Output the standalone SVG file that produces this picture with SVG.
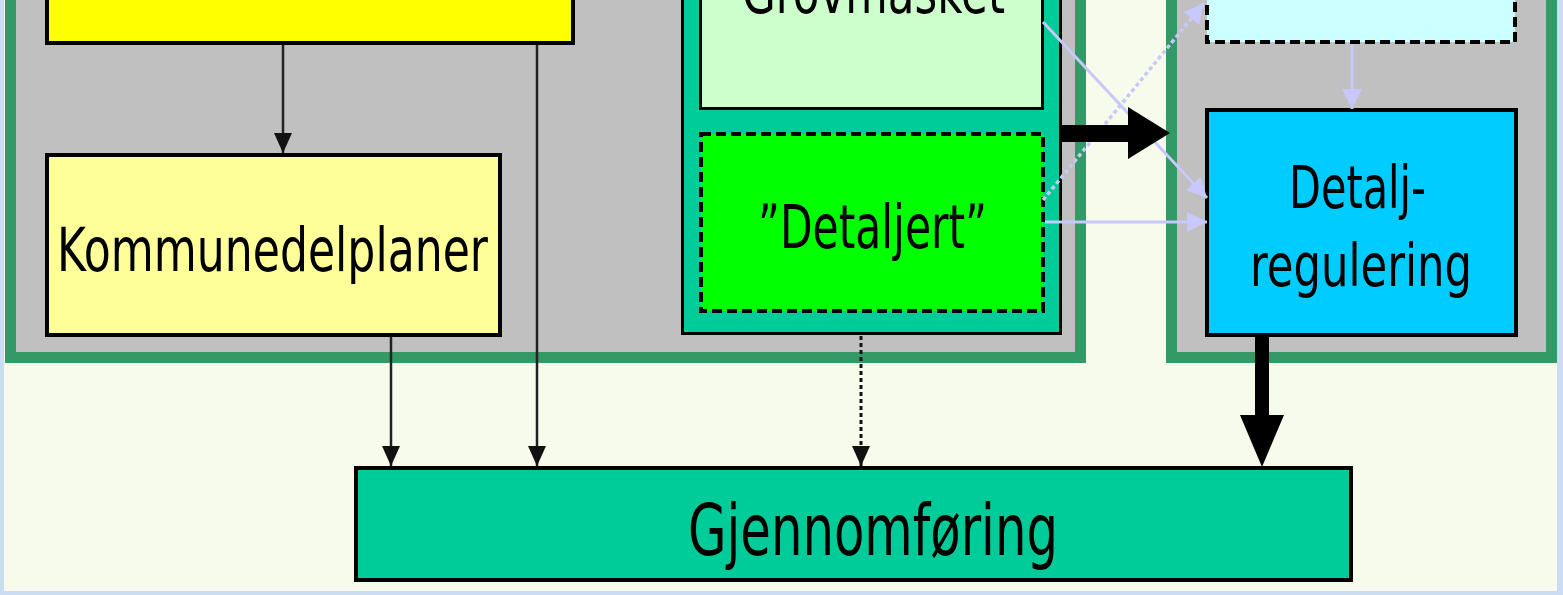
<svg xmlns="http://www.w3.org/2000/svg" width="1563" height="595" viewBox="0 0 1563 595">
  <style>
    .panel { fill: #C0C0C0; stroke: #339966; stroke-width: 11; }
    .box { stroke: #000; stroke-width: 4; }
    .dash { stroke: #000; stroke-width: 4; stroke-dasharray: 10 5; }
    .lbl { font-family: "DejaVu Sans", "Liberation Sans", sans-serif; fill: #000; }
    .thin { stroke: #222; stroke-width: 2.5; fill: none; }
    .dotted { stroke: #111; stroke-width: 3; stroke-dasharray: 4 3; fill: none; }
    .lav { stroke: #C8C8FA; stroke-width: 3; fill: none; }
    .lavdot { stroke: #C8C8FA; stroke-width: 3.5; stroke-dasharray: 4 3; fill: none; }
  </style>
  <defs>
    <marker id="ah" markerUnits="userSpaceOnUse" markerWidth="20" markerHeight="18" refX="20" refY="9" orient="auto">
      <path d="M0,0 L20,9 L0,18 Z" fill="#111"/>
    </marker>
    <marker id="ahl" markerUnits="userSpaceOnUse" markerWidth="20" markerHeight="20" refX="20" refY="10" orient="auto">
      <path d="M0,0 L20,10 L0,20 Z" fill="#C8C8FA"/>
    </marker>
  </defs>

  <!-- frame and background -->
  <rect x="0" y="0" width="1563" height="595" fill="#CCDDF3"/>
  <rect x="4" y="-10" width="1553" height="601" fill="#F6FBEC"/>

  <!-- panels -->
  <g id="panel-left">
    <rect class="panel" x="10.5" y="-20" width="1070" height="377.5"/>
  </g>
  <g id="panel-right">
    <rect class="panel" x="1171.5" y="-20" width="380" height="377.5"/>
  </g>

  <!-- nodes -->
  <g id="node-yellow">
    <rect class="box" x="47" y="-20" width="526" height="63" fill="#FFFF00"/>
  </g>
  <g id="node-kommunedelplaner">
    <rect class="box" x="47" y="155" width="453" height="180" fill="#FFFF99"/>
    <text class="lbl" x="57" y="271" font-size="61" textLength="431" lengthAdjust="spacingAndGlyphs">Kommunedelplaner</text>
  </g>
  <g id="node-middle">
    <rect x="682.5" y="-20" width="378" height="353.5" fill="#00CC99" stroke="#000" stroke-width="3"/>
  </g>
  <g id="node-grovmasket">
    <rect x="700.5" y="-20" width="342" height="128.5" fill="#CCFFCC" stroke="#000" stroke-width="3"/>
    <text class="lbl" x="742" y="13" font-size="60" textLength="263" lengthAdjust="spacingAndGlyphs">Grovmasket</text>
  </g>
  <g id="node-detaljert">
    <rect class="dash" x="701" y="134" width="342" height="177" fill="#00FF00"/>
    <text class="lbl" x="758" y="248" font-size="60" textLength="229" lengthAdjust="spacingAndGlyphs">”Detaljert”</text>
  </g>
  <g id="node-cyan">
    <rect class="dash" x="1207" y="-20" width="308" height="62" fill="#CCFFFF"/>
  </g>
  <g id="node-detaljregulering">
    <rect class="box" x="1207" y="110" width="309" height="225" fill="#00CCFF"/>
    <text class="lbl" x="1289" y="208" font-size="58" textLength="137" lengthAdjust="spacingAndGlyphs">Detalj-</text>
    <text class="lbl" x="1250" y="286" font-size="58" textLength="222" lengthAdjust="spacingAndGlyphs">regulering</text>
  </g>
  <g id="node-gjennomforing">
    <rect class="box" x="356" y="468" width="995" height="112" fill="#00CC99"/>
    <text class="lbl" x="688" y="555" font-size="72" textLength="370" lengthAdjust="spacingAndGlyphs">Gjennomføring</text>
  </g>

  <!-- connectors -->
  <g id="connectors">
    <line class="thin" x1="283" y1="45" x2="283" y2="153" marker-end="url(#ah)"/>
    <line class="thin" x1="537" y1="45" x2="537" y2="466" marker-end="url(#ah)"/>
    <line class="thin" x1="391" y1="337" x2="391" y2="466" marker-end="url(#ah)"/>
    <line class="dotted" x1="861" y1="336" x2="861" y2="466" marker-end="url(#ah)"/>

    <line class="lav" x1="1043" y1="22" x2="1207" y2="198" marker-end="url(#ahl)"/>
    <line class="lav" x1="1045" y1="222" x2="1207" y2="222" marker-end="url(#ahl)"/>
    <line class="lavdot" x1="1043" y1="200" x2="1204" y2="3" marker-end="url(#ahl)"/>
    <line class="lav" x1="1352" y1="44" x2="1352" y2="109" marker-end="url(#ahl)"/>

    <path d="M1062,125 L1128,125 L1128,107 L1170,133 L1128,159 L1128,142 L1062,142 Z" fill="#000"/>
    <path d="M1255,336 L1255,415 L1240,415 L1262,467 L1284,415 L1269,415 L1269,336 Z" fill="#000"/>
  </g>
</svg>
